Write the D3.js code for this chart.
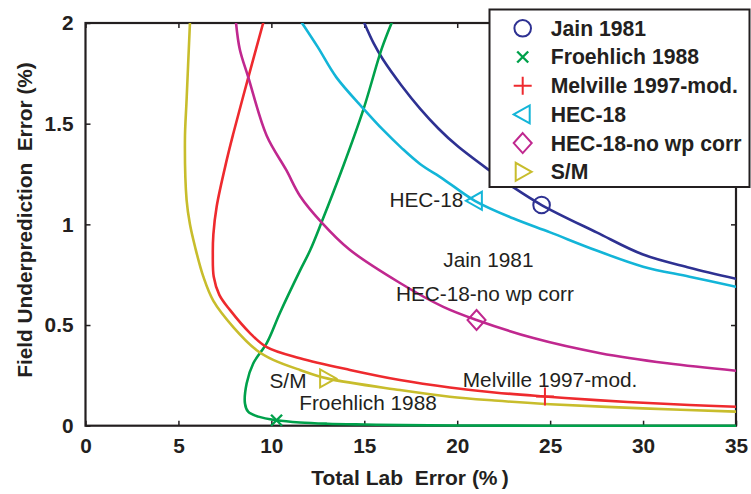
<!DOCTYPE html>
<html>
<head>
<meta charset="utf-8">
<script src="https://cdn.jsdelivr.net/npm/d3@7"></script>
<style>
  html, body { margin: 0; padding: 0; background: #fff; }
  svg { display: block; font-family: "Liberation Sans", Arial, Helvetica, sans-serif; }
</style>
</head>
<body>
<svg id="chart" width="751" height="494"></svg>
<script>
// Error trade-off curves: total lab error (x, %) vs field underprediction error (y, %)
const xTicks = [0, 5, 10, 15, 20, 25, 30, 35];
const yTicks = [0, 0.5, 1, 1.5, 2];

const seriesNames = ["Jain 1981", "Froehlich 1988", "Melville 1997-mod.", "HEC-18", "HEC-18-no wp corr", "S/M"];
const seriesColors = ["#2e3192", "#00a14b", "#ee2a2e", "#13b5d8", "#c0288f", "#c8bd2c"];
const seriesSymbols = ["circle", "x", "plus", "triLeft", "diamond", "triRight"];

const jainCurve = [[15, 2], [15.5, 1.9], [16, 1.82], [17, 1.69], [18, 1.575], [19, 1.475], [20, 1.39],
  [21.7, 1.27], [23, 1.185], [24.54, 1.096], [27.5, 0.96], [30, 0.85], [32.5, 0.785], [35, 0.73]];
const froehlichCurve = [[16.47, 2], [15.93, 1.87], [14.95, 1.57], [13.87, 1.29], [12.7, 1.01], [12.08, 0.87],
  [11.54, 0.77], [10.46, 0.56], [9.75, 0.41], [9.03, 0.31], [8.67, 0.21], [8.58, 0.11], [8.75, 0.07],
  [9.3, 0.045], [10.28, 0.027], [11.54, 0.016], [13, 0.01], [15, 0.006], [17, 0.003], [20, 0.001],
  [25, 0], [35, 0]];
const melvilleCurve = [[9.56, 2], [8.76, 1.73], [7.95, 1.45], [7.6, 1.32], [7.06, 1.09], [6.88, 0.95],
  [6.85, 0.85], [6.9, 0.74], [7.2, 0.65], [7.77, 0.575], [8.85, 0.46], [9.75, 0.39], [11.54, 0.335],
  [14.23, 0.277], [16.92, 0.227], [19.6, 0.19], [22, 0.165], [24.72, 0.145], [27.5, 0.127],
  [30, 0.114], [32.5, 0.103], [35, 0.094]];
const hec18Curve = [[11.65, 2], [12.5, 1.88], [13.5, 1.73], [15, 1.57], [16, 1.47], [17, 1.38], [18, 1.3],
  [19.25, 1.225], [20.95, 1.117], [23, 1.03], [25, 0.96], [27.5, 0.87], [30, 0.79], [32.5, 0.74], [35, 0.69]];
const hec18NoWpCurve = [[8.1, 2], [8.3, 1.87], [8.76, 1.73], [9.75, 1.44], [10.8, 1.27], [11.55, 1.14],
  [12.7, 1.01], [14.2, 0.875], [16.9, 0.71], [19.25, 0.59], [21.04, 0.525], [24.1, 0.435], [27.7, 0.36],
  [31.3, 0.31], [35, 0.273]];
const smCurve = [[5.62, 2], [5.44, 1.62], [5.35, 1.42], [5.44, 1.12], [5.62, 1.0], [5.89, 0.89],
  [6.34, 0.74], [6.88, 0.62], [7.95, 0.49], [9.21, 0.375], [10.1, 0.327], [11.54, 0.277], [13.0, 0.235],
  [16.92, 0.177], [19.6, 0.144], [22, 0.125], [24.72, 0.108], [30, 0.086], [35, 0.07]];
const curves = [jainCurve, froehlichCurve, melvilleCurve, hec18Curve, hec18NoWpCurve, smCurve];

// Highlighted operating point on each curve
const markerX = [24.54, 10.28, 24.72, 20.95, 21.04, 13.0];
const markerY = [1.096, 0.027, 0.145, 1.117, 0.525, 0.235];

// In-plot annotations: text and the data point where the text starts (baseline)
const noteText = ["HEC-18", "Jain 1981", "HEC-18-no wp corr", "Melville 1997-mod.", "S/M", "Froehlich 1988"];
const noteX = [16.35, 19.25, 16.7, 20.3, 9.9, 11.5];
const noteY = [1.085, 0.79, 0.617, 0.194, 0.185, 0.078];

const plot = { left: 85.5, right: 736, top: 23, bottom: 425.7 };
const ink = "#231f20";

const svg = d3.select("#chart");
const x = d3.scaleLinear().domain([0, 35]).range([plot.left, plot.right]);
const y = d3.scaleLinear().domain([0, 2]).range([plot.bottom, plot.top]);

const fmt = d => String(d);
const tickFont = g => g.selectAll("text")
  .attr("font-size", 20.8).attr("font-weight", "bold").attr("fill", ink)
  .attr("font-family", "'Liberation Sans', Arial, sans-serif");
const tickLines = g => { g.select(".domain").remove(); g.selectAll("line").attr("stroke", ink).attr("stroke-width", 1.5); };

svg.append("g").attr("transform", `translate(0,${plot.bottom})`)
  .call(d3.axisBottom(x).tickValues(xTicks).tickFormat(fmt).tickSizeInner(-5).tickSizeOuter(0).tickPadding(12.5))
  .call(tickLines).call(tickFont);
svg.append("g").attr("transform", `translate(${plot.left},0)`)
  .call(d3.axisLeft(y).tickValues(yTicks).tickFormat(fmt).tickSizeInner(-5).tickSizeOuter(0).tickPadding(12))
  .call(tickLines).call(tickFont);
svg.append("g").attr("transform", `translate(0,${plot.top})`)
  .call(d3.axisTop(x).tickValues(xTicks).tickFormat("").tickSizeInner(-5).tickSizeOuter(0))
  .call(tickLines);
svg.append("g").attr("transform", `translate(${plot.right},0)`)
  .call(d3.axisRight(y).tickValues(yTicks).tickFormat("").tickSizeInner(-5).tickSizeOuter(0))
  .call(tickLines);

// Plot frame
svg.append("rect")
  .attr("x", plot.left).attr("y", plot.top)
  .attr("width", plot.right - plot.left).attr("height", plot.bottom - plot.top)
  .attr("fill", "none").attr("stroke", ink).attr("stroke-width", 2.2);

// Axis titles
svg.append("text")
  .attr("x", 410).attr("y", 485).attr("text-anchor", "middle")
  .attr("font-size", 21).attr("font-weight", "bold").attr("fill", ink)
  .text("Total Lab\u00a0\u00a0Error (%\u2009)");
svg.append("text")
  .attr("transform", "translate(31.5,220) rotate(-90)").attr("text-anchor", "middle")
  .attr("font-size", 20.8).attr("font-weight", "bold").attr("fill", ink)
  .text("Field Underprediction\u00a0\u00a0Error (%)");

// Curves, clipped to the plotting area
svg.append("clipPath").attr("id", "plotClip").append("rect")
  .attr("x", plot.left).attr("y", plot.top)
  .attr("width", plot.right - plot.left).attr("height", plot.bottom - plot.top + 2);

const line = d3.line().x(d => x(d[0])).y(d => y(d[1])).curve(d3.curveCatmullRom.alpha(0.5));
const curveG = svg.append("g").attr("clip-path", "url(#plotClip)");
curves.forEach((c, i) => {
  curveG.append("path").datum(c)
    .attr("d", line)
    .attr("fill", "none").attr("stroke", seriesColors[i])
    .attr("stroke-width", 2.6).attr("stroke-linejoin", "round").attr("stroke-linecap", "round");
});

// Symbol shapes centered at (0,0)
function drawSymbol(g, kind, color) {
  let el;
  if (kind === "circle") el = g.append("circle").attr("r", 8.3);
  else if (kind === "x") el = g.append("path").attr("d", "M-5.5,-5.5L5.5,5.5M-5.5,5.5L5.5,-5.5");
  else if (kind === "plus") el = g.append("path").attr("d", "M-9,0L9,0M0,-9L0,9");
  else if (kind === "triLeft") el = g.append("path").attr("d", "M-9,0L7,-9L7,9Z");
  else if (kind === "triRight") el = g.append("path").attr("d", "M9,0L-7,-9L-7,9Z");
  else el = g.append("path").attr("d", "M0,-10L9,0L0,10L-9,0Z");
  el.attr("fill", "none").attr("stroke", color).attr("stroke-width", kind === "x" ? 2.4 : 2);
}

markerX.forEach((mx, i) => {
  const g = svg.append("g").attr("transform", `translate(${x(mx)},${y(markerY[i])})`);
  drawSymbol(g, seriesSymbols[i], seriesColors[i]);
});

// Annotations
noteText.forEach((t, i) => {
  svg.append("text")
    .attr("x", x(noteX[i])).attr("y", y(noteY[i]))
    .attr("font-size", 20.8).attr("fill", ink)
    .text(t);
});

// Legend
const legend = svg.append("g");
legend.append("rect")
  .attr("x", 489.5).attr("y", 9.5).attr("width", 260).attr("height", 177.5)
  .attr("fill", "#fff").attr("stroke", ink).attr("stroke-width", 2);
seriesNames.forEach((name, i) => {
  const cy = 28.3 + i * 28.7;
  const g = legend.append("g").attr("transform", `translate(522.7,${cy})`);
  drawSymbol(g, seriesSymbols[i], seriesColors[i]);
  legend.append("text")
    .attr("x", 550.7).attr("y", cy + 7.4)
    .attr("font-size", 21.2).attr("font-weight", "bold").attr("fill", ink)
    .text(name);
});
</script>
</body>
</html>
